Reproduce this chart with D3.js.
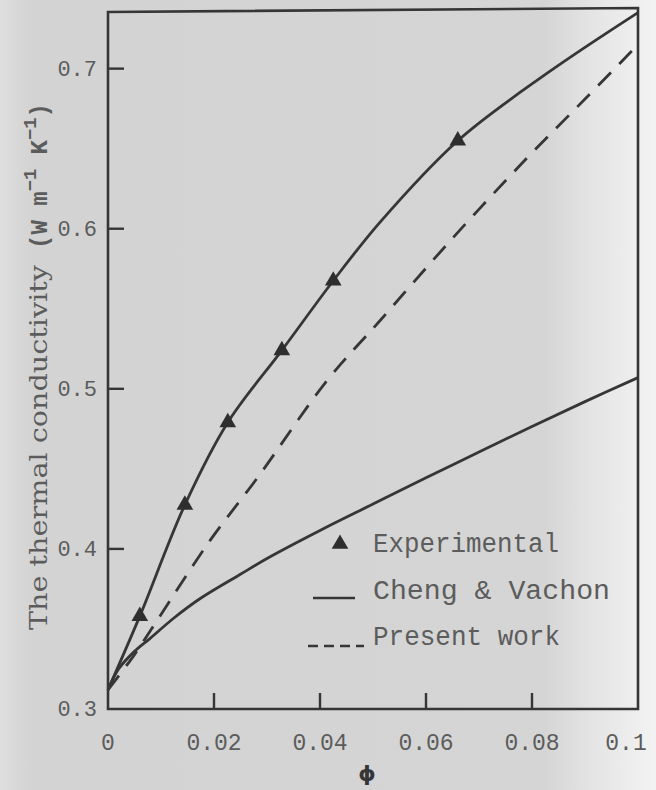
<!DOCTYPE html>
<html>
<head>
<meta charset="utf-8">
<script src="https://cdn.jsdelivr.net/npm/d3@7"></script>
<style>
  html, body { margin: 0; padding: 0; background: #d4d4d4; }
  svg { display: block; }
</style>
</head>
<body>
<div id="main"></div>
<script>
// experimental points (triangles)
var expPhi = [0.006, 0.0145, 0.0226, 0.0328, 0.0425, 0.066]
var expK = [0.358, 0.4275, 0.479, 0.524, 0.5675, 0.655]

// smooth curve drawn through the experimental data
var fitPhi = [0, 0.006, 0.0145, 0.0226, 0.0328, 0.0425, 0.0513, 0.066, 0.0828, 0.1]
var fitK = [0.312, 0.358, 0.4275, 0.479, 0.524, 0.5675, 0.604, 0.655, 0.697, 0.735]

// Cheng & Vachon
var chengPhi = [0, 0.002, 0.005, 0.0079, 0.0125, 0.0174, 0.0249, 0.03, 0.04, 0.05, 0.06, 0.07, 0.08, 0.09, 0.1]
var chengK = [0.312, 0.325, 0.336, 0.344, 0.357, 0.369, 0.384, 0.394, 0.4115, 0.428, 0.4445, 0.4605, 0.4765, 0.492, 0.507]

// Present work
var presentPhi = [0, 0.005, 0.0092, 0.0192, 0.0281, 0.0413, 0.0513, 0.065, 0.079, 0.09, 0.1]
var presentK = [0.312, 0.334, 0.355, 0.405, 0.444, 0.505, 0.5425, 0.594, 0.644, 0.681, 0.715]

var xTicks = [0, 0.02, 0.04, 0.06, 0.08, 0.1]
var xTickLabels = ['0', '0.02', '0.04', '0.06', '0.08', '0.1']
var yTicks = [0.3, 0.4, 0.5, 0.6, 0.7]
var yTickLabels = ['0.3', '0.4', '0.5', '0.6', '0.7']

var legendLabels = ['Experimental', 'Cheng & Vachon', 'Present work']

var w = 656
var h = 790
var ink = '#363636'
var textInk = '#5c5c5c'

var svg = d3.select('div#main').append('svg')
  .attr('width', w)
  .attr('height', h)

// scanned paper background, lighter band on the right
var grad = svg.append('defs').append('linearGradient').attr('id', 'paper')
grad.append('stop').attr('offset', '0').attr('stop-color', '#dedede')
grad.append('stop').attr('offset', '0.05').attr('stop-color', '#d3d3d3')
grad.append('stop').attr('offset', '0.83').attr('stop-color', '#d5d5d5')
grad.append('stop').attr('offset', '0.9').attr('stop-color', '#e4e4e4')
grad.append('stop').attr('offset', '1').attr('stop-color', '#f3f3f3')
svg.append('rect').attr('width', w).attr('height', h).attr('fill', 'url(#paper)')

var x = d3.scaleLinear().domain([0, 0.1]).range([108, 638])
var y = d3.scaleLinear().domain([0.3, 0.736]).range([709, 11])

// frame
var frame = d3.path()
frame.moveTo(x(0), y(0.736) + 1)
frame.lineTo(x(0.1), y(0.736) - 3)
frame.lineTo(x(0.1), y(0.3))
frame.lineTo(x(0), y(0.3))
frame.closePath()
svg.append('path').attr('d', frame.toString())
  .attr('fill', 'none').attr('stroke', ink).attr('stroke-width', 2.6)

// inward ticks
xTicks.forEach(function (t) {
  if (t === 0 || t === 0.1) return
  svg.append('line')
    .attr('x1', x(t)).attr('x2', x(t))
    .attr('y1', y(0.3)).attr('y2', y(0.3) - 16)
    .attr('stroke', ink).attr('stroke-width', 2.4)
})
yTicks.forEach(function (t) {
  if (t === 0.3) return
  svg.append('line')
    .attr('x1', x(0)).attr('x2', x(0) + 16)
    .attr('y1', y(t)).attr('y2', y(t))
    .attr('stroke', ink).attr('stroke-width', 2.4)
})

// tick labels
xTicks.forEach(function (t, i) {
  svg.append('text').text(xTickLabels[i])
    .attr('x', x(t) + (t === 0.1 ? -12 : 0))
    .attr('y', 750)
    .attr('text-anchor', 'middle')
    .style('font-family', 'Liberation Mono, monospace')
    .style('font-size', '23px')
    .attr('fill', textInk)
})
yTicks.forEach(function (t, i) {
  svg.append('text').text(yTickLabels[i])
    .attr('x', 97)
    .attr('y', y(t) + 7)
    .attr('text-anchor', 'end')
    .style('font-family', 'Liberation Mono, monospace')
    .style('font-size', '22px')
    .attr('fill', textInk)
})

// axis titles
svg.append('text').text('\u03d5')
  .attr('x', x(0.05) - 6).attr('y', 781)
  .attr('text-anchor', 'middle')
  .style('font-family', 'DejaVu Sans, sans-serif')
  .style('font-size', '22px')
  .style('font-weight', 'bold')
  .attr('fill', ink)

var yt = svg.append('g').attr('transform', 'translate(47,0) rotate(-90)')
yt.append('text').text('The thermal conductivity')
  .attr('x', -630).attr('y', 0)
  .attr('textLength', 365).attr('lengthAdjust', 'spacingAndGlyphs')
  .style('font-family', 'DejaVu Serif, serif')
  .style('font-size', '25px')
  .attr('fill', textInk)
var units = yt.append('text')
  .attr('x', -249).attr('y', 0)
  .attr('textLength', 146).attr('lengthAdjust', 'spacingAndGlyphs')
  .style('font-family', 'Liberation Mono, monospace')
  .style('font-size', '23px')
  .style('font-weight', 'bold')
  .attr('fill', textInk)
units.append('tspan').text('(W m')
units.append('tspan').text('\u22121').attr('dy', -11).style('font-size', '18px')
units.append('tspan').text(' K').attr('dy', 11)
units.append('tspan').text('\u22121').attr('dy', -11).style('font-size', '18px')
units.append('tspan').text(')').attr('dy', 11)

// curves
var line = d3.line()
  .x(function (d) { return x(d[0]) })
  .y(function (d) { return y(d[1]) })
  .curve(d3.curveCatmullRom.alpha(0.5))

svg.append('path')
  .attr('d', line(d3.zip(fitPhi, fitK)))
  .attr('fill', 'none').attr('stroke', ink).attr('stroke-width', 2.8)

svg.append('path')
  .attr('d', line(d3.zip(chengPhi, chengK)))
  .attr('fill', 'none').attr('stroke', ink).attr('stroke-width', 2.8)

svg.append('path')
  .attr('d', line(d3.zip(presentPhi, presentK)))
  .attr('fill', 'none').attr('stroke', ink).attr('stroke-width', 2.8)
  .attr('stroke-dasharray', '18,12')

// experimental triangles
var tri = d3.symbol().type(d3.symbolTriangle).size(120)
expPhi.forEach(function (p, i) {
  svg.append('path')
    .attr('d', tri())
    .attr('transform', 'translate(' + x(p) + ',' + y(expK[i]) + ')')
    .attr('fill', '#2e2e2e')
})

// legend
var lg = [552, 599, 645]
svg.append('path').attr('d', tri())
  .attr('transform', 'translate(340,' + (lg[0] - 8) + ')')
  .attr('fill', '#2e2e2e')
svg.append('line')
  .attr('x1', 313).attr('x2', 355).attr('y1', lg[1] - 1).attr('y2', lg[1] - 1)
  .attr('stroke', ink).attr('stroke-width', 2.6)
svg.append('line')
  .attr('x1', 308).attr('x2', 364).attr('y1', lg[2] + 1).attr('y2', lg[2] + 1)
  .attr('stroke', ink).attr('stroke-width', 2.6)
  .attr('stroke-dasharray', '10,6')
var lw = [186, 237, 187]
legendLabels.forEach(function (l, i) {
  svg.append('text').text(l)
    .attr('x', 373).attr('y', lg[i])
    .attr('textLength', lw[i]).attr('lengthAdjust', 'spacingAndGlyphs')
    .style('font-family', 'Liberation Mono, monospace')
    .style('font-size', '27px')
    .attr('fill', textInk)
})
</script>
</body>
</html>
